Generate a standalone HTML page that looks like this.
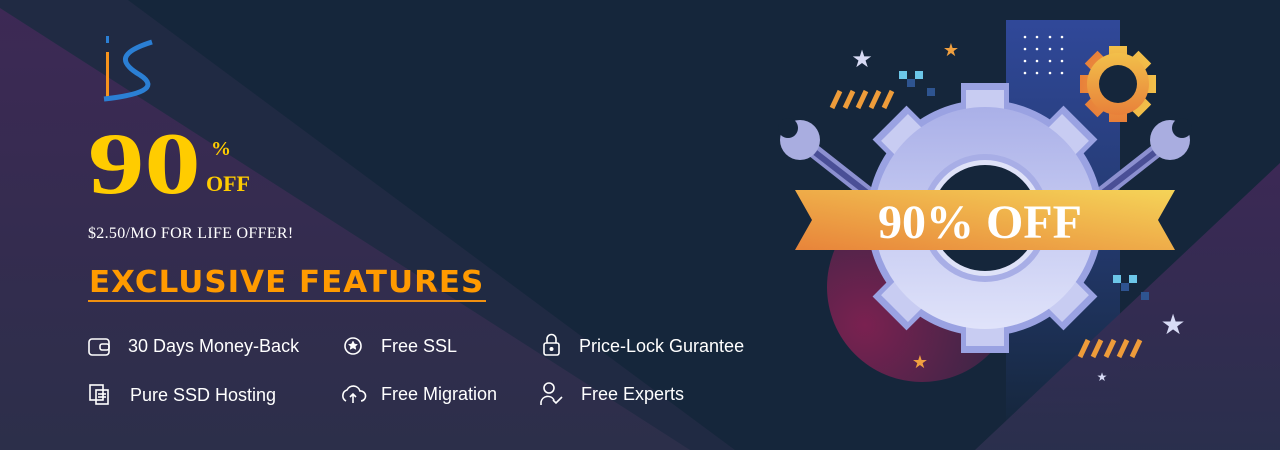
<!DOCTYPE html>
<html><head><meta charset="utf-8"><style>
html,body{margin:0;padding:0}
body{width:1280px;height:450px;overflow:hidden;background:#15263b;position:relative;font-family:"Liberation Sans",sans-serif}
.t{position:absolute;white-space:nowrap}
.f{position:absolute;color:#fff;font-size:18px;white-space:nowrap}
</style></head><body>
<svg width="1280" height="450" style="position:absolute;left:0;top:0">
<defs>
<linearGradient id="pg" x1="0" y1="0" x2="0" y2="1"><stop offset="0" stop-color="#3d2955"/><stop offset="1" stop-color="#2c2f4a"/></linearGradient>
<linearGradient id="rp" x1="0" y1="0" x2="0" y2="1"><stop offset="0" stop-color="#43295a"/><stop offset="1" stop-color="#2e3150"/></linearGradient>
<linearGradient id="bl" x1="0" y1="0" x2="0" y2="1"><stop offset="0" stop-color="#304899"/><stop offset="0.5" stop-color="#243a70"/><stop offset="1" stop-color="#15263b"/></linearGradient>
<radialGradient id="cg" cx="0.2" cy="0.7" r="0.9"><stop offset="0" stop-color="#7a2150"/><stop offset="1" stop-color="#2a2744"/></radialGradient>
<linearGradient id="gg" x1="0" y1="0" x2="0" y2="1"><stop offset="0" stop-color="#aab0e8"/><stop offset="1" stop-color="#e0e3fa"/></linearGradient>
<linearGradient id="og" x1="0" y1="0" x2="0" y2="1"><stop offset="0" stop-color="#f2c04a"/><stop offset="1" stop-color="#e8803a"/></linearGradient>
<linearGradient id="rb" x1="0" y1="1" x2="1" y2="0"><stop offset="0" stop-color="#e8843a"/><stop offset="1" stop-color="#f5d458"/></linearGradient>
</defs>
<polygon points="0,0 128,0 735,450 0,450" fill="#202a43"/>
<polygon points="0,8 690,450 0,450" fill="url(#pg)"/>
<rect x="1006" y="20" width="114" height="410" fill="url(#bl)"/>
<polygon points="1280,163 975,450 1280,450" fill="url(#rp)" opacity="0.85"/>
<g fill="#fff"><circle cx="1025" cy="37" r="1.3"/><circle cx="1037" cy="37" r="1.3"/><circle cx="1050" cy="37" r="1.3"/><circle cx="1062" cy="37" r="1.3"/>
<circle cx="1025" cy="49" r="1.3"/><circle cx="1037" cy="49" r="1.3"/><circle cx="1050" cy="49" r="1.3"/><circle cx="1062" cy="49" r="1.3"/>
<circle cx="1025" cy="61" r="1.3"/><circle cx="1037" cy="61" r="1.3"/><circle cx="1050" cy="61" r="1.3"/><circle cx="1062" cy="61" r="1.3"/>
<circle cx="1025" cy="73" r="1.3"/><circle cx="1037" cy="73" r="1.3"/><circle cx="1050" cy="73" r="1.3"/><circle cx="1062" cy="73" r="1.3"/></g>
<circle cx="922" cy="287" r="95" fill="url(#cg)"/>
<g stroke-linecap="round"><line x1="800" y1="140" x2="870" y2="195" stroke="#8c90d0" stroke-width="14"/><line x1="812" y1="150" x2="870" y2="195" stroke="#4a4f96" stroke-width="6"/>
<line x1="1170" y1="140" x2="1100" y2="195" stroke="#8c90d0" stroke-width="14"/><line x1="1158" y1="150" x2="1100" y2="195" stroke="#4a4f96" stroke-width="6"/></g>
<circle cx="800" cy="140" r="20" fill="#a9ade0"/><circle cx="788" cy="128" r="10" fill="#15263b"/>
<circle cx="1170" cy="140" r="20" fill="#a9ade0"/><circle cx="1182" cy="128" r="10" fill="#15263b"/>
<g transform="translate(985,218)">
<g fill="#9aa2e2">
<rect x="-24" y="-135" width="48" height="270"/><rect x="-24" y="-135" width="48" height="270" transform="rotate(45)"/><rect x="-24" y="-135" width="48" height="270" transform="rotate(90)"/><rect x="-24" y="-135" width="48" height="270" transform="rotate(135)"/>
</g>
<circle r="118" fill="#9aa2e2"/>
<g fill="url(#gg)">
<rect x="-19" y="-128" width="38" height="256" fill="#c8ccf2"/><rect x="-19" y="-128" width="38" height="256" transform="rotate(45)" fill="#c8ccf2"/><rect x="-19" y="-128" width="38" height="256" transform="rotate(90)" fill="#c8ccf2"/><rect x="-19" y="-128" width="38" height="256" transform="rotate(135)" fill="#c8ccf2"/>
<circle r="111"/></g>
<circle r="64" fill="#a8aee6"/><circle r="58" fill="#dfe2f8"/><circle r="53" fill="#15263b"/>
</g>
<g transform="translate(1118,84)">
<g fill="url(#og)"><rect x="-9" y="-38" width="18" height="76"/><rect x="-9" y="-38" width="18" height="76" transform="rotate(45)"/><rect x="-9" y="-38" width="18" height="76" transform="rotate(90)"/><rect x="-9" y="-38" width="18" height="76" transform="rotate(135)"/></g>
<circle r="31" fill="url(#og)"/><circle r="19" fill="#15263b"/></g>
<polygon points="795,190 1175,190 1158,220 1175,250 795,250 812,220" fill="url(#rb)"/>
<text x="980" y="238" text-anchor="middle" font-family="Liberation Serif,serif" font-weight="bold" font-size="48" fill="#fff">90% OFF</text>
<g stroke="#ee9c3a" stroke-width="5"><line x1="832" y1="108" x2="840" y2="91"/><line x1="845" y1="108" x2="853" y2="91"/><line x1="858" y1="108" x2="866" y2="91"/><line x1="871" y1="108" x2="879" y2="91"/><line x1="884" y1="108" x2="892" y2="91"/>
<line x1="1080" y1="357" x2="1088" y2="340"/><line x1="1093" y1="357" x2="1101" y2="340"/><line x1="1106" y1="357" x2="1114" y2="340"/><line x1="1119" y1="357" x2="1127" y2="340"/><line x1="1132" y1="357" x2="1140" y2="340"/></g>
<g fill="#6cc6e8"><rect x="899" y="71" width="8" height="8"/><rect x="915" y="71" width="8" height="8"/><rect x="1113" y="275" width="8" height="8"/><rect x="1129" y="275" width="8" height="8"/></g>
<g fill="#2e5490"><rect x="907" y="79" width="8" height="8"/><rect x="927" y="88" width="8" height="8"/><rect x="1121" y="283" width="8" height="8"/><rect x="1141" y="292" width="8" height="8"/></g>
<g font-family="DejaVu Sans" text-anchor="middle">
<text x="862" y="67" font-size="24" fill="#d8dbf5">★</text><text x="951" y="56" font-size="18" fill="#f0a040">★</text>
<text x="920" y="368" font-size="18" fill="#f0a040">★</text><text x="1173" y="334" font-size="28" fill="#d8dbf5">★</text><text x="1102" y="381" font-size="12" fill="#d8dbf5">★</text></g>
<rect x="106" y="52" width="3" height="45" fill="#f7941d"/><rect x="106" y="36" width="3" height="7" fill="#2b7fd4"/>
<path d="M152,42 C120,52 118,62 140,75 C160,88 140,95 104,99" stroke="#2b7fd4" stroke-width="5" fill="none"/>
<g stroke="#fff" stroke-width="1.6" fill="none">
<rect x="89" y="339" width="20" height="16" rx="3"/><rect x="100" y="344" width="9" height="6" rx="2"/>
<circle cx="353" cy="346" r="8"/><path d="M353,341 l1.5,3 3,.4 -2.2,2 .6,3 -2.9,-1.5 -2.9,1.5 .6,-3 -2.2,-2 3,-.4z" fill="#fff" stroke-width="0.5"/>
<rect x="544" y="343" width="15" height="12" rx="2"/><path d="M547,343 v-4 a4.5,4.5 0 0 1 9,0 v4"/><circle cx="551.5" cy="349" r="1.2" fill="#fff"/>
<rect x="90" y="385" width="13" height="15"/><rect x="96" y="390" width="12" height="14"/><line x1="98" y1="394" x2="106" y2="394"/><line x1="98" y1="397" x2="106" y2="397"/>
<path d="M346,401 a6,6 0 0 1 1,-11 a7,7 0 0 1 13,1 a5,5 0 0 1 1,10"/><path d="M353,403 v-9 m-3,3 l3,-3 3,3"/>
<circle cx="549" cy="388" r="5"/><path d="M541,405 v-3 a7,7 0 0 1 13,-2"/><path d="M553,400 l3,3 6,-6"/>
</g>
</svg>
<div class="t" style="left:88px;top:121px;font-family:'Liberation Serif',serif;font-weight:bold;font-size:88px;color:#ffcc00;line-height:88px;transform:scaleX(1.28);transform-origin:left">90</div>
<div class="t" style="left:211px;top:138px;font-family:'Liberation Serif',serif;font-weight:bold;font-size:20px;color:#ffcc00">%</div>
<div class="t" style="left:206px;top:171px;font-family:'Liberation Serif',serif;font-weight:bold;font-size:22px;color:#ffcc00">OFF</div>
<div class="t" style="left:88px;top:225px;font-family:'Liberation Serif',serif;font-size:16px;color:#fff;letter-spacing:0.3px">$2.50/MO FOR LIFE OFFER!</div>
<div class="t" style="left:89px;top:266px;font-family:'DejaVu Sans',sans-serif;font-weight:bold;font-size:30px;color:#ff9a00;letter-spacing:1px;line-height:34px;transform:scaleX(1.03);transform-origin:left">EXCLUSIVE FEATURES</div>
<div style="position:absolute;left:88px;top:300px;width:398px;height:2px;background:#f09010"></div>
<div class="f" style="left:128px;top:336px">30 Days Money-Back</div>
<div class="f" style="left:381px;top:336px">Free SSL</div>
<div class="f" style="left:579px;top:336px">Price-Lock Gurantee</div>
<div class="f" style="left:130px;top:385px">Pure SSD Hosting</div>
<div class="f" style="left:381px;top:384px">Free Migration</div>
<div class="f" style="left:581px;top:384px">Free Experts</div>
</body></html>
